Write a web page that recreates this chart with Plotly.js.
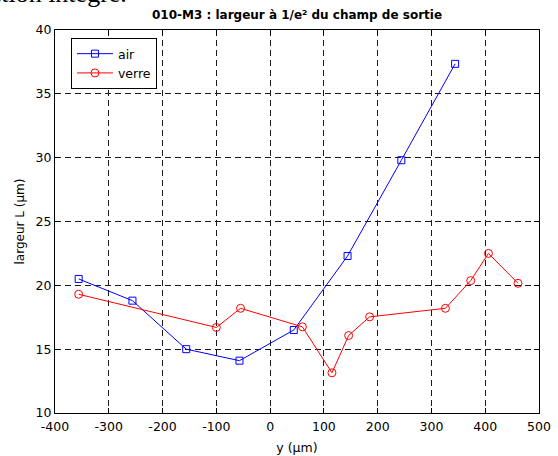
<!DOCTYPE html>
<html>
<head>
<meta charset="utf-8">
<script src="https://cdn.plot.ly/plotly-3.0.1.min.js"></script>
<style>
  html, body { margin: 0; padding: 0; background: #fff; }
  #chart { width: 558px; height: 456px; }
</style>
</head>
<body>
<div id="chart"></div>
<script>
// ---- data ----
const airX   = [-356, -256, -156, -57, 44, 144, 244, 344];
const airY   = [20.5, 18.8, 15.0, 14.1, 16.5, 22.3, 29.8, 37.35];
const verreX = [-356, -100, -55, 60, 115, 146, 185, 326, 373, 406, 461];
const verreY = [19.3, 16.7, 18.2, 16.75, 13.15, 16.07, 17.53, 18.2, 20.37, 22.5, 20.16];
const xTicks = [-400, -300, -200, -100, 0, 100, 200, 300, 400, 500];
const yTicks = [10, 15, 20, 25, 30, 35, 40];
const seriesNames = ['air', 'verre'];
const titleText = '010-M3 : largeur à 1/e² du champ de sortie';
const xTitle = 'y (µm)';
const yTitle = 'largeur L (µm)';
const topFragment = 'section intègre.';

const font = 'DejaVu Sans, Arial, sans-serif';

const traces = [
  {
    x: airX, y: airY, name: seriesNames[0], type: 'scatter', mode: 'lines+markers',
    line: { color: '#0000ff', width: 1 },
    marker: { symbol: 'square-open', size: 7, color: '#0000ff', line: { width: 1, color: '#0000ff' } }
  },
  {
    x: verreX, y: verreY, name: seriesNames[1], type: 'scatter', mode: 'lines+markers',
    line: { color: '#ff0000', width: 1 },
    marker: { symbol: 'circle-open', size: 8, color: '#ff0000', line: { width: 1, color: '#ff0000' } }
  }
];

const axisCommon = {
  showline: true, linecolor: '#000', linewidth: 1, mirror: 'ticks',
  ticks: 'inside', ticklen: 5, tickcolor: '#000', tickwidth: 1,
  showgrid: true, gridcolor: '#1a1a1a', gridwidth: 1, griddash: '6px,4px',
  zeroline: false,
  tickfont: { family: font, size: 12.5, color: '#000' }
};

const layout = {
  width: 558, height: 456,
  margin: { l: 55, r: 19, t: 30, b: 43, pad: 0 },
  paper_bgcolor: '#fff', plot_bgcolor: '#fff',
  showlegend: true,
  title: {
    text: '<b>' + titleText + '</b>',
    font: { family: font, size: 12, color: '#000' },
    x: 0.5, xref: 'paper', xanchor: 'center',
    y: 1 - 15 / 456, yref: 'container', yanchor: 'middle'
  },
  xaxis: Object.assign({}, axisCommon, {
    range: [-400, 500], tickvals: xTicks, ticktext: xTicks.map(String),
    ticklabelstandoff: 2,
    title: { text: xTitle, font: { family: font, size: 12.5, color: '#000' }, standoff: 10 }
  }),
  yaxis: Object.assign({}, axisCommon, {
    range: [10, 40], tickvals: yTicks, ticktext: yTicks.map(String),
    title: { text: yTitle, font: { family: font, size: 12, color: '#000' }, standoff: 8 }
  }),
  legend: {
    x: 0.033, y: 0.979, xanchor: 'left', yanchor: 'top',
    bgcolor: '#fff', bordercolor: '#000', borderwidth: 1,
    font: { family: font, size: 12.5, color: '#000' },
    itemwidth: 36,
    tracegroupgap: 0
  },
  annotations: [{
    text: topFragment, xref: 'paper', yref: 'paper',
    x: 0.153, y: 1.0525, xanchor: 'right', yanchor: 'bottom',
    showarrow: false,
    font: { family: 'Liberation Serif, Times New Roman, serif', size: 26, color: '#000' }
  }]
};

Plotly.newPlot('chart', traces, layout, { displayModeBar: false, staticPlot: true });
</script>
</body>
</html>
